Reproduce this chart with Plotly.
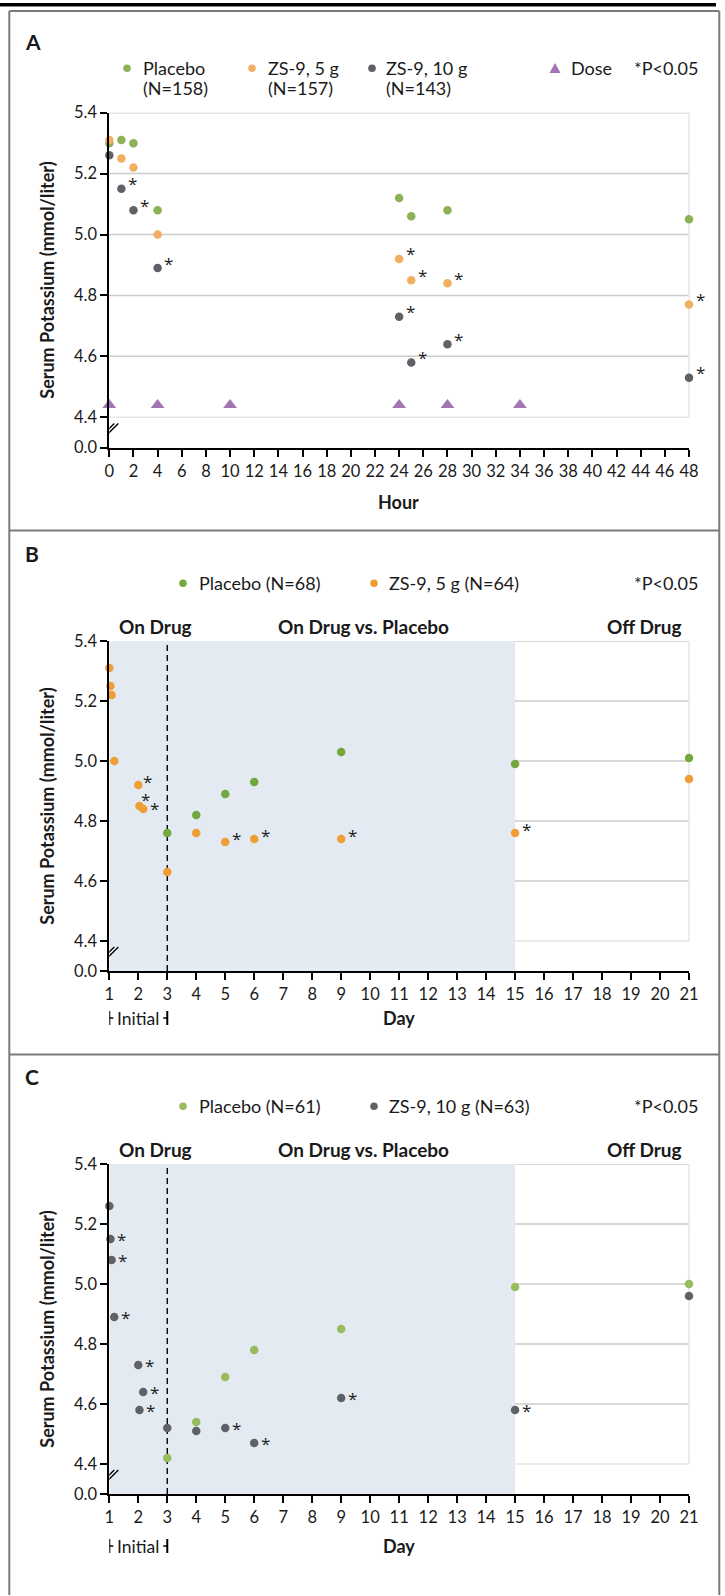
import plotly.graph_objects as go

W, H = 725, 1596
FONT = "Lato"
STAR_FONT = "Open Sans"
TXT = "#1a1a1a"

# ---------------- data ----------------
# Panel A (hours)
HOURS = [0, 1, 2, 4, 24, 25, 28, 48]
A_PLACEBO = [5.30, 5.31, 5.30, 5.08, 5.12, 5.06, 5.08, 5.05]
A_ZS5 = [5.31, 5.25, 5.22, 5.00, 4.92, 4.85, 4.84, 4.77]
A_ZS10 = [5.26, 5.15, 5.08, 4.89, 4.73, 4.58, 4.64, 4.53]
A_ZS5_SIG = [False, False, False, False, True, True, True, True]
A_ZS10_SIG = [False, True, True, True, True, True, True, True]
DOSE_HOURS = [0, 4, 10, 24, 28, 34]
DOSE_LEVEL = 4.44
HOUR_TICKS = list(range(0, 49, 2))

# Panel B (days)
B_ZS5_DAYS = [1.0, 1.04, 1.08, 1.17, 2.0, 2.04, 2.17, 3, 4, 5, 6, 9, 15, 21]
B_ZS5 = [5.31, 5.25, 5.22, 5.00, 4.92, 4.85, 4.84, 4.63, 4.76, 4.73, 4.74, 4.74, 4.76, 4.94]
B_ZS5_SIG = [False, False, False, False, True, True, True, False, False, True, True, True, True, False]
B_PLACEBO_DAYS = [3, 4, 5, 6, 9, 15, 21]
B_PLACEBO = [4.76, 4.82, 4.89, 4.93, 5.03, 4.99, 5.01]

# Panel C (days)
C_ZS10_DAYS = [1.0, 1.04, 1.08, 1.17, 2.0, 2.04, 2.17, 3, 4, 5, 6, 9, 15, 21]
C_ZS10 = [5.26, 5.15, 5.08, 4.89, 4.73, 4.58, 4.64, 4.52, 4.51, 4.52, 4.47, 4.62, 4.58, 4.96]
C_ZS10_SIG = [False, True, True, True, True, True, True, False, False, True, True, True, True, False]
C_PLACEBO_DAYS = [3, 4, 5, 6, 9, 15, 21]
C_PLACEBO = [4.42, 4.54, 4.69, 4.78, 4.85, 4.99, 5.00]

DAY_TICKS = list(range(1, 22))
INITIAL_START, INITIAL_END = 1, 3
ON_DRUG_END = 15

Y_TICKVALS = [4.3, 4.4, 4.6, 4.8, 5.0, 5.2, 5.4]
Y_TICKTEXT = ["0.0", "4.4", "4.6", "4.8", "5.0", "5.2", "5.4"]
Y_GRID = [4.6, 4.8, 5.0, 5.2, 5.4]
Y_FRAME = 4.4
Y_BREAK = 4.36
Y_RANGE = [4.3, 5.4]

# ---------------- colours ----------------
GREEN_A = "#8db157"
GREEN_B = "#73a83f"
GREEN_C = "#98bb5e"
ORANGE_A = "#f1b061"
ORANGE_B = "#ee9e35"
GRAY = "#5e6266"
PURPLE = "#a275b4"
SHADE = "#e3eaf1"
GRIDC = "#cbcbcb"
FRAMEC = "#e6e6e6"

# ---------------- layout geometry (pixels) ----------------
PX_L, PX_R = 109.3, 689.0
PANELS = {
    "A": dict(top=112.7, bot=447.7),
    "B": dict(top=641.0, bot=971.0),
    "C": dict(top=1164.0, bot=1494.0),
}
TICK_SIZE = 16.5
LEG_SIZE = 18
HEAD_SIZE = 19
TITLE_SIZE = 18


def xp(px):
    return px / W


def yp(py):
    return 1 - py / H


fig = go.Figure()
shapes = []
annotations = []


def text(x, y, s, size=16, bold=False, xanchor="left", angle=0, color=TXT):
    if bold:
        s = "<b>" + s + "</b>"
    annotations.append(dict(xref="paper", yref="paper", x=xp(x), y=yp(y), text=s,
                            showarrow=False, xanchor=xanchor, yanchor="middle",
                            textangle=angle,
                            font=dict(family=FONT, size=size, color=color)))


def legend_dot(x, y, color, r=3.8):
    shapes.append(dict(type="circle", xref="paper", yref="paper",
                       x0=xp(x - r), x1=xp(x + r), y0=yp(y + r), y1=yp(y - r),
                       fillcolor=color, line=dict(width=0)))


def legend_tri(x, y, color, s=5.5):
    path = "M {},{} L {},{} L {},{} Z".format(xp(x - s), yp(y + s * 0.85), xp(x + s), yp(y + s * 0.85),
                                              xp(x), yp(y - s * 0.95))
    shapes.append(dict(type="path", xref="paper", yref="paper", path=path,
                       fillcolor=color, line=dict(width=0)))


def axis_setup(idx, key, xrange, xticks):
    g = PANELS[key]
    sfx = "" if idx == 1 else str(idx)
    xdom = [xp(PX_L), xp(PX_R)]
    ydom = [yp(g["bot"]), yp(g["top"])]
    common = dict(showline=True, linecolor="black", linewidth=2, ticks="outside",
                  ticklen=7, tickwidth=2, tickcolor="black", showgrid=False,
                  zeroline=False, tickfont=dict(family=FONT, size=TICK_SIZE, color=TXT),
                  fixedrange=True, automargin=False)
    fig.update_layout(**{
        "xaxis" + sfx: dict(domain=xdom, range=xrange, anchor="y" + sfx,
                            tickvals=xticks, ticktext=[str(t) for t in xticks], **common),
        "yaxis" + sfx: dict(domain=ydom, range=Y_RANGE, anchor="x" + sfx,
                            tickvals=Y_TICKVALS, ticktext=Y_TICKTEXT, **common),
    })
    return "x" + sfx, "y" + sfx


def grid_and_frame(xr, yr, xmin):
    for v in Y_GRID:
        shapes.append(dict(type="line", xref=xr + " domain", yref=yr, x0=0, x1=1, y0=v, y1=v,
                           line=dict(color=GRIDC, width=1.5), layer="below"))
    shapes.append(dict(type="line", xref=xr + " domain", yref=yr, x0=0, x1=1, y0=Y_FRAME, y1=Y_FRAME,
                       line=dict(color=FRAMEC, width=1.5), layer="below"))
    shapes.append(dict(type="line", xref=xr + " domain", yref=yr, x0=1, x1=1, y0=Y_FRAME, y1=Y_RANGE[1],
                       line=dict(color=FRAMEC, width=1.5), layer="below"))
    # axis break marks
    shapes.append(dict(type="path", xref=xr, yref=yr, xsizemode="pixel", ysizemode="pixel",
                       xanchor=xmin, yanchor=Y_BREAK,
                       path="M -9,-8 L 5,6 L 9,6 L -5,-8 Z",
                       fillcolor="white", line=dict(width=0), layer="above"))
    for dx in (0, 4):
        shapes.append(dict(type="line", xref=xr, yref=yr, xsizemode="pixel", ysizemode="pixel",
                           xanchor=xmin, yanchor=Y_BREAK, x0=-9 + dx, x1=5 + dx, y0=-8, y1=6,
                           line=dict(color="black", width=1.4), layer="above"))


def points(xr, yr, xs, ys, color, size=8.5, symbol="circle"):
    fig.add_trace(go.Scatter(x=xs, y=ys, xaxis=xr, yaxis=yr, mode="markers",
                             marker=dict(color=color, size=size, symbol=symbol, line=dict(width=0)),
                             cliponaxis=False, showlegend=False, hoverinfo="skip"))


def stars(xr, yr, xs, ys, sig, dx=11, dy=4, override=None):
    override = override or {}
    for i, (x, y, s) in enumerate(zip(xs, ys, sig)):
        if s:
            ddx, ddy = override.get(i, (dx, dy))
            annotations.append(dict(xref=xr, yref=yr, x=x, y=y, text="*", showarrow=False,
                                    xanchor="center", yanchor="middle", xshift=ddx, yshift=ddy,
                                    font=dict(family=STAR_FONT, size=17, color="#222")))


# ---------------- Panel A ----------------
xa, ya = axis_setup(1, "A", [0, 48], HOUR_TICKS)
grid_and_frame(xa, ya, 0)
points(xa, ya, HOURS, A_PLACEBO, GREEN_A)
points(xa, ya, HOURS, A_ZS5, ORANGE_A)
points(xa, ya, HOURS, A_ZS10, GRAY)
points(xa, ya, DOSE_HOURS, [DOSE_LEVEL] * len(DOSE_HOURS), PURPLE, size=12, symbol="triangle-up")
stars(xa, ya, HOURS, A_ZS5, A_ZS5_SIG, dy=5)
stars(xa, ya, HOURS, A_ZS10, A_ZS10_SIG, dy=5)

# ---------------- Panel B ----------------
xb, yb = axis_setup(2, "B", [1, 21], DAY_TICKS)
shapes.append(dict(type="rect", xref=xb, yref=yb, x0=INITIAL_START, x1=ON_DRUG_END, y0=Y_RANGE[0], y1=Y_RANGE[1],
                   fillcolor=SHADE, line=dict(width=0), layer="below"))
grid_and_frame(xb, yb, 1)
shapes.append(dict(type="line", xref=xb, yref=yb, x0=INITIAL_END, x1=INITIAL_END, y0=Y_RANGE[0], y1=Y_RANGE[1],
                   line=dict(color="black", width=1.4, dash="6px,4px"), layer="below"))
points(xb, yb, B_PLACEBO_DAYS, B_PLACEBO, GREEN_B)
points(xb, yb, B_ZS5_DAYS, B_ZS5, ORANGE_B)
stars(xb, yb, B_ZS5_DAYS, B_ZS5, B_ZS5_SIG, dy=3, override={4: (9, 3), 5: (6, 6), 6: (11, 0)})

# ---------------- Panel C ----------------
xc, yc = axis_setup(3, "C", [1, 21], DAY_TICKS)
shapes.append(dict(type="rect", xref=xc, yref=yc, x0=INITIAL_START, x1=ON_DRUG_END, y0=Y_RANGE[0], y1=Y_RANGE[1],
                   fillcolor=SHADE, line=dict(width=0), layer="below"))
grid_and_frame(xc, yc, 1)
shapes.append(dict(type="line", xref=xc, yref=yc, x0=INITIAL_END, x1=INITIAL_END, y0=Y_RANGE[0], y1=Y_RANGE[1],
                   line=dict(color="black", width=1.4, dash="6px,4px"), layer="below"))
points(xc, yc, C_PLACEBO_DAYS, C_PLACEBO, GREEN_C)
points(xc, yc, C_ZS10_DAYS, C_ZS10, GRAY)
stars(xc, yc, C_ZS10_DAYS, C_ZS10, C_ZS10_SIG, dy=0)

# ---------------- frames ----------------
BORDER = "#7a7a7a"
shapes.append(dict(type="line", xref="paper", yref="paper", x0=0, x1=xp(716), y0=yp(4.8), y1=yp(4.8),
                   line=dict(color="black", width=3.5)))
for yy in (11, 530.5, 1054.5):
    shapes.append(dict(type="line", xref="paper", yref="paper", x0=xp(9.3), x1=xp(719.3), y0=yp(yy), y1=yp(yy),
                       line=dict(color=BORDER, width=2)))
for xx in (9.3, 719.3):
    shapes.append(dict(type="line", xref="paper", yref="paper", x0=xp(xx), x1=xp(xx), y0=yp(11), y1=yp(1595),
                       line=dict(color=BORDER, width=2)))

# ---------------- texts ----------------
# Panel A
text(23, 42, "A", size=21, bold=True)
text(141, 68.3, "Placebo", size=LEG_SIZE)
text(141, 88.3, "(N=158)", size=LEG_SIZE)
text(266, 68.3, "ZS-9, 5 g", size=LEG_SIZE)
text(266, 88.3, "(N=157)", size=LEG_SIZE)
text(384, 68.3, "ZS-9, 10 g", size=LEG_SIZE)
text(384, 88.3, "(N=143)", size=LEG_SIZE)
text(569, 68.3, "Dose", size=LEG_SIZE)
text(700, 68.3, "*P&lt;0.05", size=LEG_SIZE, xanchor="right")
legend_dot(127, 68.3, GREEN_A)
legend_dot(252, 68.3, ORANGE_A)
legend_dot(372, 68.3, GRAY)
legend_tri(555, 68.3, PURPLE)
text(46.7, 280, "Serum Potassium (mmol/liter)", size=TITLE_SIZE, bold=True, xanchor="center", angle=-90)
text(399, 501.7, "Hour", size=TITLE_SIZE, bold=True, xanchor="center")

# Panels B and C
for key, lab_y, leg_y, reg_y, bot_y, green, other_c, other_t, placebo_t in (
        ("B", 553, 583.3, 627, 1018, GREEN_B, ORANGE_B, "ZS-9, 5 g (N=64)", "Placebo (N=68)"),
        ("C", 1076, 1106.3, 1149.3, 1546, GREEN_C, GRAY, "ZS-9, 10 g (N=63)", "Placebo (N=61)")):
    g = PANELS[key]
    text(23, lab_y, key, size=21, bold=True)
    legend_dot(183, leg_y, green)
    text(196.7, leg_y, placebo_t, size=LEG_SIZE)
    legend_dot(374, leg_y, other_c)
    text(386.7, leg_y, other_t, size=LEG_SIZE)
    text(700, leg_y, "*P&lt;0.05", size=LEG_SIZE, xanchor="right")
    text(116.7, reg_y, "On Drug", size=HEAD_SIZE, bold=True)
    text(276, reg_y, "On Drug vs. Placebo", size=HEAD_SIZE, bold=True)
    text(684, reg_y, "Off Drug", size=HEAD_SIZE, bold=True, xanchor="right")
    text(46.7, (g["top"] + g["bot"]) / 2, "Serum Potassium (mmol/liter)", size=TITLE_SIZE, bold=True,
         xanchor="center", angle=-90)
    text(399, bot_y, "Day", size=TITLE_SIZE, bold=True, xanchor="center")
    xr = "x2" if key == "B" else "x3"
    annotations.append(dict(xref=xr, yref="paper", x=(INITIAL_START + INITIAL_END) / 2, y=yp(bot_y),
                            text="Initial", showarrow=False, xanchor="center", yanchor="middle",
                            font=dict(family=FONT, size=17.5, color=TXT)))
    for xv, sgn in ((INITIAL_START, 1), (INITIAL_END, -1)):
        shapes.append(dict(type="line", xref=xr, yref="paper", x0=xv, x1=xv,
                           y0=yp(bot_y - 7), y1=yp(bot_y + 7), line=dict(color="black", width=2)))
        shapes.append(dict(type="line", xref=xr, yref="paper", xsizemode="pixel", xanchor=xv,
                           x0=0, x1=4 * sgn, y0=yp(bot_y), y1=yp(bot_y), line=dict(color="black", width=1.5)))

fig.update_layout(width=W, height=H, margin=dict(l=0, r=0, t=0, b=0, autoexpand=False),
                  paper_bgcolor="white", plot_bgcolor="rgba(0,0,0,0)",
                  shapes=shapes, annotations=annotations, showlegend=False,
                  font=dict(family=FONT, color=TXT))

POST = """
var de = document.documentElement, b = document.body;
[de, b].forEach(function(e){ e.style.margin='0'; e.style.padding='0'; e.style.overflow='hidden';
  e.style.width='725px'; e.style.height='1596px'; });
var gd = document.getElementById('{plot_id}');
gd.style.position='fixed'; gd.style.left='0px'; gd.style.top='0px';
"""
fig.write_html("out.html", config={"displayModeBar": False}, post_script=POST)
